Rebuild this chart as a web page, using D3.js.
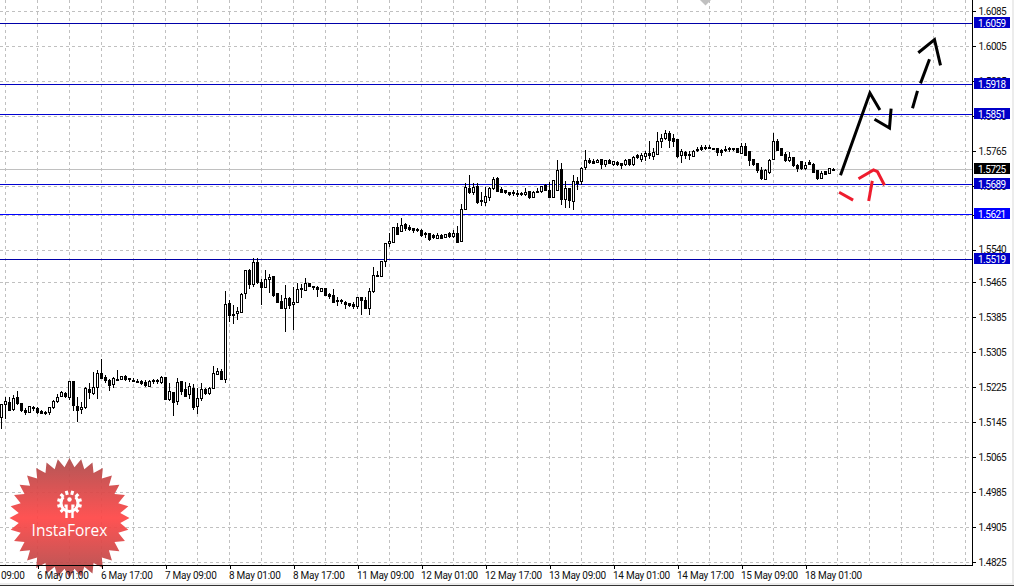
<!DOCTYPE html>
<html><head><meta charset="utf-8">
<script src="https://cdn.jsdelivr.net/npm/d3@7/dist/d3.min.js"></script>
<style>html,body{margin:0;padding:0;background:#fff;overflow:hidden}svg{display:block}text{font-family:Roboto,sans-serif;font-size:10px}</style>
</head><body><svg id="c" width="1014" height="588"></svg>
<script>
const opens=[1.5155,1.5186,1.5191,1.5175,1.5202,1.5188,1.5173,1.5168,1.5178,1.5177,
1.5169,1.5168,1.5167,1.5178,1.5192,1.5203,1.5211,1.5201,1.5239,1.5181,
1.5174,1.5178,1.5220,1.5210,1.5224,1.5257,1.5248,1.5241,1.5231,1.5242,
1.5242,1.5249,1.5245,1.5240,1.5239,1.5239,1.5235,1.5227,1.5240,1.5240,
1.5237,1.5248,1.5196,1.5214,1.5192,1.5238,1.5219,1.5208,1.5223,1.5181,
1.5199,1.5220,1.5210,1.5223,1.5255,1.5260,1.5242,1.5417,1.5392,1.5393,
1.5397,1.5440,1.5493,1.5459,1.5511,1.5464,1.5453,1.5471,1.5478,1.5439,
1.5421,1.5406,1.5428,1.5414,1.5419,1.5451,1.5446,1.5462,1.5455,1.5453,
1.5443,1.5451,1.5437,1.5435,1.5424,1.5423,1.5420,1.5416,1.5414,1.5409,
1.5430,1.5424,1.5405,1.5443,1.5481,1.5478,1.5513,1.5553,1.5555,1.5590,
1.5581,1.5597,1.5590,1.5588,1.5586,1.5584,1.5577,1.5576,1.5571,1.5566,
1.5572,1.5567,1.5576,1.5569,1.5577,1.5558,1.5632,1.5680,1.5670,1.5683,
1.5652,1.5648,1.5660,1.5679,1.5703,1.5677,1.5676,1.5670,1.5670,1.5668,
1.5667,1.5665,1.5672,1.5660,1.5673,1.5672,1.5686,1.5676,1.5660,1.5674,
1.5723,1.5654,1.5680,1.5650,1.5696,1.5696,1.5727,1.5744,1.5741,1.5738,
1.5746,1.5734,1.5744,1.5734,1.5739,1.5737,1.5734,1.5746,1.5734,1.5754,
1.5747,1.5752,1.5759,1.5753,1.5758,1.5788,1.5793,1.5805,1.5793,1.5792,
1.5755,1.5763,1.5757,1.5753,1.5769,1.5774,1.5773,1.5773,1.5772,1.5772,
1.5767,1.5769,1.5770,1.5770,1.5772,1.5760,1.5776,1.5764,1.5747,1.5737,
1.5721,1.5700,1.5717,1.5747,1.5787,1.5770,1.5758,1.5743,1.5750,1.5733,
1.5741,1.5725,1.5738,1.5735,1.5720,1.5703,1.5718,1.5714,1.5724];
const closes=[1.5186,1.5192,1.5171,1.5200,1.5187,1.5171,1.5168,1.5180,1.5176,1.5168,
1.5166,1.5167,1.5179,1.5193,1.5202,1.5212,1.5203,1.5239,1.5183,1.5171,
1.5178,1.5223,1.5213,1.5225,1.5257,1.5245,1.5240,1.5229,1.5244,1.5240,
1.5250,1.5242,1.5242,1.5239,1.5238,1.5233,1.5228,1.5239,1.5238,1.5239,
1.5248,1.5197,1.5216,1.5190,1.5237,1.5215,1.5205,1.5226,1.5178,1.5200,
1.5220,1.5210,1.5223,1.5257,1.5261,1.5242,1.5415,1.5390,1.5389,1.5398,
1.5438,1.5493,1.5461,1.5511,1.5464,1.5453,1.5472,1.5476,1.5434,1.5420,
1.5406,1.5428,1.5411,1.5419,1.5449,1.5448,1.5462,1.5455,1.5453,1.5448,
1.5451,1.5436,1.5433,1.5420,1.5421,1.5421,1.5414,1.5413,1.5409,1.5430,
1.5423,1.5405,1.5444,1.5481,1.5478,1.5513,1.5554,1.5558,1.5590,1.5575,
1.5595,1.5587,1.5585,1.5583,1.5583,1.5571,1.5574,1.5564,1.5568,1.5572,
1.5566,1.5574,1.5569,1.5577,1.5557,1.5632,1.5682,1.5670,1.5682,1.5647,
1.5650,1.5662,1.5680,1.5700,1.5673,1.5671,1.5670,1.5665,1.5667,1.5665,
1.5666,1.5670,1.5658,1.5671,1.5670,1.5683,1.5674,1.5659,1.5697,1.5720,
1.5654,1.5679,1.5653,1.5696,1.5692,1.5725,1.5743,1.5740,1.5737,1.5744,
1.5735,1.5743,1.5737,1.5741,1.5735,1.5733,1.5744,1.5734,1.5750,1.5750,
1.5755,1.5760,1.5754,1.5761,1.5788,1.5795,1.5805,1.5790,1.5788,1.5752,
1.5764,1.5756,1.5755,1.5764,1.5766,1.5769,1.5772,1.5772,1.5770,1.5763,
1.5763,1.5766,1.5768,1.5769,1.5761,1.5775,1.5755,1.5744,1.5734,1.5720,
1.5702,1.5720,1.5744,1.5787,1.5767,1.5756,1.5743,1.5750,1.5732,1.5726,
1.5725,1.5733,1.5734,1.5717,1.5703,1.5715,1.5712,1.5725,1.5723];
const highs=[1.5186,1.5203,1.5202,1.5207,1.5216,1.5188,1.5177,1.5181,1.5182,1.5181,
1.5173,1.5171,1.5181,1.5196,1.5209,1.5216,1.5215,1.5239,1.5239,1.5202,
1.5192,1.5225,1.5234,1.5261,1.5264,1.5290,1.5254,1.5243,1.5249,1.5264,
1.5251,1.5252,1.5245,1.5246,1.5245,1.5242,1.5242,1.5242,1.5245,1.5245,
1.5251,1.5248,1.5234,1.5215,1.5246,1.5239,1.5238,1.5234,1.5232,1.5223,
1.5234,1.5223,1.5225,1.5274,1.5269,1.5266,1.5446,1.5424,1.5413,1.5409,
1.5440,1.5494,1.5496,1.5520,1.5520,1.5472,1.5493,1.5484,1.5479,1.5441,
1.5436,1.5459,1.5432,1.5455,1.5463,1.5461,1.5475,1.5464,1.5455,1.5456,
1.5453,1.5453,1.5441,1.5449,1.5432,1.5426,1.5423,1.5418,1.5421,1.5432,
1.5432,1.5432,1.5453,1.5499,1.5491,1.5513,1.5555,1.5577,1.5590,1.5601,
1.5612,1.5600,1.5597,1.5590,1.5589,1.5587,1.5581,1.5578,1.5575,1.5578,
1.5575,1.5576,1.5580,1.5584,1.5593,1.5645,1.5692,1.5710,1.5692,1.5693,
1.5672,1.5683,1.5683,1.5706,1.5705,1.5683,1.5677,1.5672,1.5676,1.5676,
1.5671,1.5680,1.5674,1.5673,1.5681,1.5686,1.5689,1.5695,1.5700,1.5744,
1.5737,1.5696,1.5680,1.5711,1.5705,1.5729,1.5767,1.5750,1.5748,1.5746,
1.5747,1.5744,1.5748,1.5743,1.5743,1.5738,1.5747,1.5747,1.5753,1.5758,
1.5760,1.5766,1.5789,1.5773,1.5808,1.5804,1.5813,1.5811,1.5805,1.5793,
1.5769,1.5766,1.5766,1.5767,1.5775,1.5778,1.5779,1.5778,1.5773,1.5773,
1.5770,1.5776,1.5775,1.5773,1.5773,1.5784,1.5784,1.5766,1.5748,1.5738,
1.5728,1.5725,1.5748,1.5807,1.5793,1.5772,1.5763,1.5763,1.5752,1.5735,
1.5743,1.5741,1.5744,1.5737,1.5723,1.5720,1.5720,1.5726,1.5726];
const lows=[1.5130,1.5153,1.5170,1.5171,1.5184,1.5169,1.5162,1.5167,1.5171,1.5165,
1.5164,1.5162,1.5162,1.5175,1.5188,1.5202,1.5201,1.5197,1.5171,1.5146,
1.5164,1.5175,1.5199,1.5207,1.5198,1.5243,1.5235,1.5217,1.5224,1.5240,
1.5241,1.5240,1.5238,1.5237,1.5237,1.5231,1.5226,1.5226,1.5232,1.5232,
1.5232,1.5197,1.5194,1.5159,1.5184,1.5207,1.5202,1.5199,1.5173,1.5164,
1.5194,1.5207,1.5207,1.5221,1.5252,1.5242,1.5235,1.5375,1.5369,1.5379,
1.5395,1.5427,1.5450,1.5455,1.5462,1.5413,1.5451,1.5440,1.5432,1.5418,
1.5403,1.5351,1.5405,1.5356,1.5418,1.5430,1.5445,1.5455,1.5447,1.5432,
1.5442,1.5434,1.5426,1.5418,1.5412,1.5415,1.5403,1.5408,1.5405,1.5403,
1.5391,1.5403,1.5390,1.5441,1.5478,1.5478,1.5501,1.5545,1.5554,1.5574,
1.5580,1.5583,1.5583,1.5578,1.5580,1.5569,1.5566,1.5560,1.5563,1.5565,
1.5563,1.5566,1.5567,1.5567,1.5555,1.5557,1.5630,1.5668,1.5664,1.5645,
1.5639,1.5639,1.5650,1.5676,1.5671,1.5670,1.5668,1.5662,1.5662,1.5660,
1.5662,1.5662,1.5656,1.5659,1.5670,1.5670,1.5673,1.5657,1.5659,1.5673,
1.5641,1.5634,1.5634,1.5631,1.5676,1.5687,1.5721,1.5735,1.5735,1.5737,
1.5725,1.5729,1.5735,1.5732,1.5732,1.5724,1.5732,1.5732,1.5732,1.5747,
1.5740,1.5742,1.5747,1.5744,1.5757,1.5773,1.5790,1.5773,1.5775,1.5750,
1.5738,1.5746,1.5744,1.5752,1.5764,1.5766,1.5767,1.5769,1.5767,1.5755,
1.5755,1.5763,1.5764,1.5766,1.5760,1.5758,1.5753,1.5732,1.5732,1.5714,
1.5699,1.5699,1.5712,1.5746,1.5766,1.5755,1.5740,1.5740,1.5728,1.5717,
1.5723,1.5723,1.5733,1.5714,1.5700,1.5702,1.5711,1.5713,1.5723];
const priceTicks=[1.6085,1.6005,1.5925,1.5845,1.5765,1.5685,1.5620,1.5540,1.5465,1.5385,1.5305,1.5225,1.5145,1.5065,1.4985,1.4905,1.4825];
const timeLabels=["5 May 09:00","6 May 01:00","6 May 17:00","7 May 09:00","8 May 01:00","8 May 17:00","11 May 09:00","12 May 01:00","12 May 17:00","13 May 09:00","14 May 01:00","14 May 17:00","15 May 09:00","18 May 01:00"];
const timeBars=[-7,9,25,41,57,73,89,105,121,137,153,169,185,201];
const gridBars=[-7,1,9,17,25,33,41,49,57,65,73,81,89,97,105,113,121,129,137,145,153,161,169,177,185,193,201,209,217,225,233,241];
const levels=[1.6059,1.5918,1.5851,1.5689,1.5621,1.5519];
const levelColors=["#0000a8","#0000c0","#0000d0","#0000d0","#0000ff","#0000a8"];
const currentPrice=1.5725;
const blackStrokes=[
 [[209.75,1.5710],[217.1,1.5898],[219.6,1.5859]],
 [[218.25,1.5838],[222,1.5818],[222.4,1.5862]],
 [[227.75,1.5863],[229,1.5903]],
 [[229.75,1.5920],[232,1.5975]],
 [[229.2,1.5990],[233.25,1.6020],[234.75,1.5961]]];
const redStrokes=[
 [[209.4,1.5671],[212.9,1.5653]],
 [[216.8,1.5651],[217.7,1.5697]],
 [[214.25,1.5702],[218,1.5722],[219,1.5718],[220.75,1.5687]]];
const shiftBar=176;

const svg=d3.select("#c");
const plotRight=972, plotBottom=565;
const x=d3.scaleLinear().domain([0,250]).range([1.5,1001.5]);
const y=d3.scaleLinear().domain([1.6085,1.4825]).range([11.2,562.2]);
const px=v=>Math.round(v)+0.5;

// grid
const grid=svg.append("g").attr("stroke","#c0c0c0").attr("stroke-dasharray","3,3").attr("shape-rendering","crispEdges");
grid.selectAll("line.h").data(priceTicks).join("line").attr("x1",0).attr("x2",plotRight).attr("y1",d=>px(y(d))).attr("y2",d=>px(y(d)));
grid.selectAll("line.v").data(gridBars).join("line").attr("y1",0).attr("y2",plotBottom).attr("x1",d=>x(d)).attr("x2",d=>x(d));

// logo
const defs=svg.append("defs");
const lg=defs.append("linearGradient").attr("id","lg").attr("x1",0).attr("x2",0).attr("y1",0).attr("y2",1);
[[0,"#ad4a4a"],[0.5,"#ff4646"],[1,"#ad4a4a"]].forEach(s=>lg.append("stop").attr("offset",s[0]).attr("stop-color",s[1]));
const logo=svg.append("g").attr("transform","translate(69.5,518)");
const teeth=32;
const star=d3.lineRadial().curve(d3.curveLinearClosed).angle(d=>d*Math.PI/teeth).radius(d=>d%2?51:60)(d3.range(teeth*2));
logo.append("path").attr("d",star).attr("fill","url(#lg)").attr("opacity",0.93);
const gear=logo.append("g").attr("transform","translate(0,-15)");
gear.selectAll("rect").data(d3.range(10)).join("rect").attr("x",-1.5).attr("y",-12.5).attr("width",3).attr("height",4).attr("fill","#fff")
 .attr("transform",d=>`rotate(${d*30-135})`);
gear.append("path").attr("d",d3.arc().innerRadius(7).outerRadius(10).startAngle(0.8).endAngle(2*Math.PI-0.8)()).attr("fill","#fff");
gear.append("circle").attr("cy",-3.5).attr("r",2.2).attr("fill","#fff");
gear.append("path").attr("d","M-5,1.5H-1.8V15H-4.2V4H-5ZM5,1.5H1.8V15H4.2V4H5Z").attr("fill","#fff");
logo.append("text").attr("x",0).attr("y",17.5).attr("text-anchor","middle").attr("fill","#fff").style("font-family","'Open Sans',sans-serif").style("font-size","15.5px").text("InstaForex");

// levels
svg.append("g").attr("shape-rendering","crispEdges").selectAll("line").data(levels).join("line")
 .attr("x1",0).attr("x2",plotRight).attr("y1",d=>px(y(d))).attr("y2",d=>px(y(d))).attr("stroke",(d,i)=>levelColors[i]);
svg.append("line").attr("x1",0).attr("x2",plotRight).attr("y1",px(y(currentPrice))).attr("y2",px(y(currentPrice))).attr("stroke","#c0c0c0").attr("shape-rendering","crispEdges");

// candles
const candle=svg.append("g").attr("shape-rendering","crispEdges");
const idx=d3.range(opens.length);
candle.selectAll("line").data(idx).join("line").attr("x1",i=>x(i)).attr("x2",i=>x(i)).attr("y1",i=>y(highs[i])).attr("y2",i=>y(lows[i])).attr("stroke","#000");
candle.selectAll("rect").data(idx).join("rect")
 .attr("x",i=>x(i)-1).attr("width",2)
 .attr("y",i=>y(Math.max(opens[i],closes[i])))
 .attr("height",i=>Math.max(1,Math.abs(y(opens[i])-y(closes[i]))))
 .attr("fill",i=>closes[i]>opens[i]?"#fff":"#000").attr("stroke","#000");

// hand-drawn strokes
const stroke=d3.line().x(d=>x(d[0])).y(d=>y(d[1]));
svg.append("g").attr("fill","none").attr("stroke","#000").attr("stroke-width",3).selectAll("path").data(blackStrokes).join("path").attr("d",stroke);
svg.append("g").attr("fill","none").attr("stroke","#ee1c2e").attr("stroke-width",3).selectAll("path").data(redStrokes).join("path").attr("d",stroke);

// shift marker
svg.append("path").attr("d",d3.symbol(d3.symbolSquare,60)()).attr("transform",`translate(${x(shiftBar)},0) rotate(45)`).attr("fill","#c0c0c0");

// axes
const yAxis=d3.axisRight(y).tickValues(priceTicks).tickFormat(d3.format(".4f")).tickSize(3).tickPadding(3);
const ya=svg.append("g").attr("transform",`translate(${plotRight+0.5},0)`).call(yAxis);
ya.select(".domain").attr("d",`M0,0V${plotBottom+0.5}`);
ya.selectAll(".tick line").attr("shape-rendering","crispEdges");
const xAxis=d3.axisBottom(x).tickValues(timeBars).tickFormat((d,i)=>timeLabels[i]).tickSize(3).tickPadding(3);
const xa=svg.append("g").attr("transform",`translate(0,${plotBottom+0.5})`).call(xAxis);
xa.select(".domain").attr("d",`M0,0H${plotRight}`);
xa.selectAll(".tick line").attr("shape-rendering","crispEdges");
xa.selectAll(".tick text").attr("text-anchor","start").attr("dx",-1).style("letter-spacing","-0.25px");
ya.selectAll(".tick text").style("letter-spacing","-0.5px");
svg.selectAll(".domain").attr("stroke","#000").attr("shape-rendering","crispEdges");
svg.selectAll(".tick text").attr("fill","#111").style("font-family","Roboto,sans-serif").style("font-size","10px");

// value labels
const tags=levels.map((v,i)=>({v,bg:levelColors[i]==="#0000ff"?"#0000ff":"#0000c8"})).concat([{v:currentPrice,bg:"#000"}]);
const tg=svg.append("g").selectAll("g").data(tags).join("g").attr("transform",d=>`translate(974,${Math.round(y(d.v))-6})`);
tg.append("rect").attr("width",36).attr("height",11).attr("fill",d=>d.bg);
tg.append("text").attr("x",4).attr("y",9.5).attr("fill","#fff").style("letter-spacing","-0.5px").text(d=>d3.format(".4f")(d.v));

// window frame
svg.append("rect").attr("x",1012).attr("y",0).attr("width",2).attr("height",585).attr("fill","#ececec");
svg.append("rect").attr("x",0).attr("y",583).attr("width",1014).attr("height",2).attr("fill","#ececec");
svg.append("rect").attr("x",0).attr("y",585).attr("width",1014).attr("height",1).attr("fill","#333");
</script></body></html>
